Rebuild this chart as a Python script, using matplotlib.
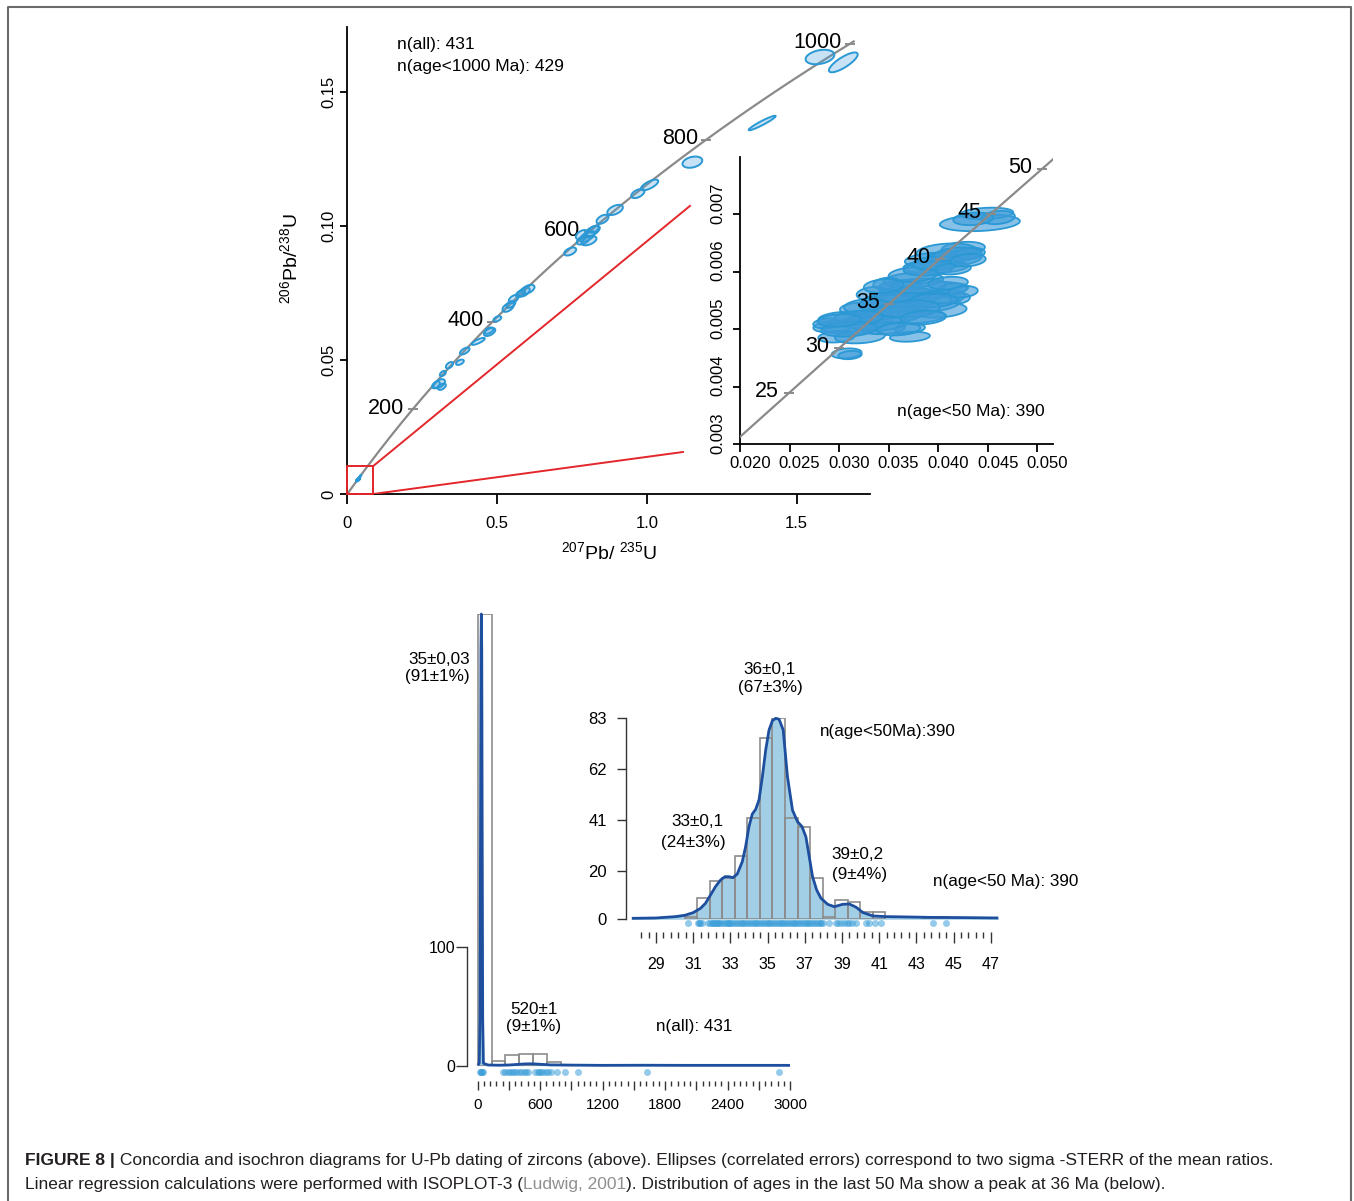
import numpy as np
import matplotlib
matplotlib.use("Agg")
import matplotlib.pyplot as plt
from matplotlib.patches import Polygon
from matplotlib.lines import Line2D
from matplotlib.ticker import FixedLocator, FixedFormatter
from matplotlib.transforms import offset_copy

plt.rcParams['font.family'] = ['Liberation Sans', 'DejaVu Sans']
plt.rcParams['mathtext.fontset'] = 'custom'
plt.rcParams['mathtext.rm'] = 'Liberation Sans'
plt.rcParams['mathtext.it'] = 'Liberation Sans:italic'

# ---------------- data ----------------
LAM238 = 1.55125e-4   # 1/Ma
LAM235 = 9.8485e-4    # 1/Ma

conc_ages_main = [200, 400, 600, 800, 1000]
conc_ages_inset = [25, 30, 35, 40, 45, 50]

# older grains (207Pb/235U, 206Pb/238U, half widths, error correlation)
old_x = [1.578, 1.656, 1.385, 1.152, 1.009, 0.970, 0.894, 0.852, 0.818, 0.801, 0.788,
         0.807, 0.782, 0.823, 0.744, 0.590, 0.603, 0.578, 0.555, 0.537, 0.546, 0.501,
         0.475, 0.473, 0.437, 0.392, 0.376, 0.341, 0.319, 0.307, 0.296, 0.316]
old_y = [0.1629, 0.1609, 0.1383, 0.1237, 0.1152, 0.1120, 0.1059, 0.1024, 0.0980, 0.0960,
         0.0947, 0.0944, 0.0967, 0.0987, 0.0904, 0.0753, 0.0763, 0.0747, 0.0727, 0.0696,
         0.0707, 0.0653, 0.0604, 0.0609, 0.0569, 0.0533, 0.0491, 0.0480, 0.0449, 0.0411,
         0.0407, 0.0400]
old_sx = [0.048, 0.048, 0.045, 0.033, 0.029, 0.022, 0.026, 0.020, 0.025, 0.025, 0.022,
          0.025, 0.019, 0.016, 0.020, 0.019, 0.022, 0.015, 0.016, 0.019, 0.015, 0.013,
          0.019, 0.015, 0.022, 0.016, 0.013, 0.012, 0.010, 0.019, 0.013, 0.013]
old_sy = [0.0027, 0.0037, 0.0027, 0.0021, 0.0020, 0.0017, 0.0019, 0.0017, 0.0020, 0.0020,
          0.0017, 0.0017, 0.0017, 0.0013, 0.0015, 0.0017, 0.0017, 0.0013, 0.0015, 0.0017,
          0.0013, 0.0010, 0.0015, 0.0012, 0.0013, 0.0013, 0.0010, 0.0012, 0.0010, 0.0017,
          0.0013, 0.0012]
old_rho = [0.3, 0.8, 0.95, 0.3, 0.7, 0.5, 0.5, 0.5, 0.6, 0.6, 0.5, 0.5, 0.5, 0.5, 0.5, 0.5,
           0.5, 0.5, 0.5, 0.5, 0.5, 0.5, 0.5, 0.5, 0.8, 0.6, 0.5, 0.5, 0.5, 0.5, 0.5, 0.5]

# young grains (< 50 Ma)
young_x = [0.04421, 0.04489, 0.04606, 0.04354, 0.04253, 0.04085, 0.03950, 0.04152, 0.03850,
           0.04320, 0.04051, 0.03749, 0.03614, 0.03950, 0.04085, 0.03682, 0.03480, 0.03850,
           0.04018, 0.03581, 0.03749, 0.03412, 0.04152, 0.03345, 0.04220, 0.03043, 0.02942,
           0.03143, 0.03278, 0.02975, 0.03211, 0.03446, 0.03715, 0.03715, 0.02874, 0.03177,
           0.03345, 0.03480, 0.03076, 0.03110,
           0.03300, 0.03500, 0.03650, 0.03800, 0.03750, 0.03900, 0.04000, 0.03550, 0.03400,
           0.03200, 0.03100, 0.03600, 0.03950, 0.04100, 0.04200, 0.03450, 0.03700, 0.03000,
           0.04150, 0.03850, 0.04250, 0.04300]
young_y = [0.006849, 0.007012, 0.006942, 0.006919, 0.006403, 0.006345, 0.006200, 0.006229,
           0.006084, 0.006316, 0.006084, 0.005852, 0.005736, 0.005678, 0.005562, 0.005562,
           0.005504, 0.005446, 0.005330, 0.005330, 0.005214, 0.005272, 0.005707, 0.005388,
           0.005533, 0.005186, 0.005041, 0.005041, 0.005128, 0.004867, 0.004867, 0.005012,
           0.005012, 0.004867, 0.005099, 0.005359, 0.005620, 0.005794, 0.004577, 0.004548,
           0.005400, 0.005450, 0.005600, 0.005750, 0.005950, 0.006050, 0.006150, 0.005250,
           0.005100, 0.005200, 0.005000, 0.005000, 0.005500, 0.005800, 0.006300, 0.005750,
           0.005350, 0.005150, 0.006050, 0.005200, 0.005650, 0.006200]
young_sx = [0.00404, 0.00269, 0.00168, 0.00202, 0.00219, 0.00303, 0.00286, 0.00286, 0.00202,
            0.00151, 0.00252, 0.00303, 0.00219, 0.00336, 0.00185, 0.00353, 0.00235, 0.00370,
            0.00269, 0.00303, 0.00319, 0.00202, 0.00151, 0.00118, 0.00101, 0.00252, 0.00202,
            0.00303, 0.00269, 0.00185, 0.00252, 0.00219, 0.00151, 0.00202, 0.00135, 0.00168,
            0.00168, 0.00135, 0.00151, 0.00118,
            0.00250, 0.00300, 0.00280, 0.00280, 0.00250, 0.00250, 0.00260, 0.00300, 0.00300,
            0.00250, 0.00280, 0.00220, 0.00250, 0.00200, 0.00240, 0.00200, 0.00320, 0.00220,
            0.00180, 0.00230, 0.00150, 0.00180]
young_sy = [0.000145, 0.000101, 0.000116, 0.000110, 0.000116, 0.000145, 0.000130, 0.000130,
            0.000101, 0.000101, 0.000101, 0.000130, 0.000116, 0.000145, 0.000116, 0.000145,
            0.000116, 0.000160, 0.000130, 0.000130, 0.000116, 0.000116, 0.000087, 0.000116,
            0.000087, 0.000116, 0.000101, 0.000130, 0.000116, 0.000101, 0.000116, 0.000101,
            0.000087, 0.000087, 0.000087, 0.000101, 0.000116, 0.000101, 0.000087, 0.000072,
            0.000130, 0.000150, 0.000140, 0.000130, 0.000130, 0.000120, 0.000120, 0.000140,
            0.000130, 0.000120, 0.000130, 0.000110, 0.000120, 0.000110, 0.000120, 0.000120,
            0.000150, 0.000110, 0.000100, 0.000120, 0.000100, 0.000110]
young_rho = [0.2] * 62

zoom_box = (0.0868, 0.01044)
zoom_line_top = (1.144, 0.1074)
zoom_line_bottom = (1.1205, 0.01566)

# histogram of all ages (Ma)
hist_all_edges = [0, 133, 266, 399, 532, 665, 798, 931, 1064, 1197, 1330, 1463, 1596, 1729,
                  1862, 1995, 2128, 2261, 2394, 2527, 2660, 2793, 2926]
hist_all_counts = [382, 4, 9, 10, 10, 3, 1, 1, 0, 0, 0, 0, 1, 0, 0, 0, 0, 0, 0, 0, 0, 1]
kde_all_age = [0, 15, 22, 27, 31, 35, 39, 43, 48, 55, 100, 200, 300, 400, 450, 500, 550, 600,
               700, 900, 1200, 1600, 2000, 2500, 3000]
kde_all_val = [0.5, 2, 40, 200, 350, 382, 350, 200, 40, 2, 0.6, 0.4, 0.6, 1.2, 1.5, 1.6, 1.5,
               1.2, 0.7, 0.5, 0.3, 0.4, 0.3, 0.3, 0.3]
rug_all = [20, 28, 35, 42, 50, 245, 265, 290, 310, 330, 350, 370, 395, 415, 440, 460, 480,
           555, 575, 590, 610, 630, 655, 680, 705, 759, 838, 966, 1626, 2894]

# histogram of ages < 50 Ma
hist_young_edges = [29.19, 29.86, 30.54, 31.21, 31.89, 32.56, 33.24, 33.91, 34.59, 35.26,
                    35.94, 36.61, 37.29, 37.96, 38.64, 39.31, 39.99, 40.66, 41.34, 42.01,
                    42.69, 43.36, 44.04, 44.71]
hist_young_counts = [0, 0, 1, 9, 16, 17, 26, 42, 75, 83, 42, 38, 17, 1, 8, 7, 3, 3, 0, 0, 0, 1, 1]
kde_young_age = [27.70, 29.0, 30.04, 30.55, 31.0, 31.39, 31.66, 31.93, 32.2, 32.47, 32.71,
                 32.92, 33.14, 33.37, 33.64, 33.82, 34.0, 34.18, 34.36, 34.54, 34.72, 34.9,
                 35.08, 35.26, 35.44, 35.62, 35.84, 36.07, 36.34, 36.61, 36.85, 37.06, 37.24,
                 37.42, 37.64, 37.87, 38.23, 38.59, 39.04, 39.4, 39.76, 40.12, 40.66, 41.38,
                 42.28, 43.72, 45.52, 47.41]
kde_young_val = [0.4, 0.55, 1.1, 1.65, 2.75, 4.5, 6.6, 10.0, 13.5, 16.2, 17.6, 17.6, 17.2,
                 18.7, 23.8, 30.0, 38.3, 43.5, 45.4, 49.3, 58.9, 69.9, 78.2, 82.0, 83.0, 82.6,
                 78.2, 58.9, 45.1, 40.3, 38.3, 34.1, 25.9, 17.6, 12.1, 8.7, 6.2, 5.2, 6.2, 6.3,
                 5.0, 2.8, 1.4, 1.1, 1.0, 0.8, 0.7, 0.55]
rug_young = [30.7, 31.25, 31.3, 31.35, 31.45, 31.8, 31.9, 32.0, 32.05, 32.1, 32.2, 32.3, 32.35,
             32.4, 32.5, 32.6, 32.7, 32.8, 32.85, 32.9, 33.0, 33.1, 33.2, 33.3, 33.4, 33.5,
             33.6, 33.7, 33.8, 33.9, 34.0, 34.1, 34.2, 34.3, 34.4, 34.5, 34.6, 34.7, 34.8,
             34.9, 35.0, 35.1, 35.2, 35.3, 35.4, 35.5, 35.6, 35.7, 35.8, 35.9, 36.0, 36.1,
             36.2, 36.3, 36.4, 36.5, 36.6, 36.7, 36.8, 36.9, 37.0, 37.1, 37.2, 37.3, 37.4,
             37.5, 37.6, 37.7, 37.8, 37.9, 38.0, 38.3, 38.7, 38.8, 38.95, 39.1, 39.25, 39.4,
             39.55, 39.75, 40.3, 40.45, 40.8, 41.1, 43.9, 44.6]

# ---------------- figure ----------------
W, H = 1354, 1201
fig = plt.figure(figsize=(W / 100, H / 100), dpi=100)

GRAY = '#8a8a8a'
RED = '#e3262a'
ELL_FACE = (0.27, 0.63, 0.86, 0.30)
ELL_FACE_IN = (0.24, 0.61, 0.85, 0.62)
ELL_EDGE = '#2a98d4'
KDE_FILL = '#a3cfe6'
KDE_LINE = '#1d4f9e'
BAR_EDGE = '#8c8c8c'
RUG = '#3d9fd9'


def px_axes(l, t, r, b):
    return fig.add_axes([l / W, 1 - b / H, (r - l) / W, (b - t) / H])


def ftext(x, y, s, **kw):
    kw.setdefault('ha', 'center')
    kw.setdefault('va', 'center')
    return fig.text(x / W, 1 - y / H, s, **kw)


def conc(t):
    t = np.asarray(t, dtype=float)
    return np.expm1(LAM235 * t), np.expm1(LAM238 * t)


def draw_ellipse(ax, cx, cy, sx, sy, rho, **kw):
    t = np.linspace(0, 2 * np.pi, 72)
    ex = cx + sx * np.cos(t)
    ey = cy + sy * (rho * np.cos(t) + np.sqrt(1 - rho ** 2) * np.sin(t))
    ax.add_patch(Polygon(np.column_stack([ex, ey]), closed=True, **kw))


def style_spines(ax, lw=1.3):
    for s in ['top', 'right']:
        ax.spines[s].set_visible(False)
    for s in ['left', 'bottom']:
        ax.spines[s].set_linewidth(lw)


# ---- concordia, all grains ----
ax1 = px_axes(347.3, 26.7, 870, 494)
ax1.set_xlim(0, 1.745)
ax1.set_ylim(0, 0.1742)
style_spines(ax1)
cx, cy = conc(np.linspace(0, 1005, 300))
ax1.plot(cx, cy, color=GRAY, lw=1.6, zorder=2)
tx, ty = conc(conc_ages_main)
ax1.plot(tx, ty, ls='none', marker='_', ms=7, mew=1.4, color=GRAY, zorder=2)
for a, x, y in zip(conc_ages_main, tx, ty):
    ax1.annotate(str(a), (x, y), xytext=(-6, 1), textcoords='offset points',
                 ha='right', va='center', fontsize=15.5)
for i in range(len(old_x)):
    draw_ellipse(ax1, old_x[i], old_y[i], old_sx[i], old_sy[i], old_rho[i],
                 facecolor=ELL_FACE, edgecolor=ELL_EDGE, lw=1.4, zorder=3)
for i in range(len(young_x)):
    draw_ellipse(ax1, young_x[i], young_y[i], young_sx[i], young_sy[i], young_rho[i],
                 facecolor=ELL_FACE, edgecolor=ELL_EDGE, lw=0.8, zorder=3)
bx, by = zoom_box
ax1.plot([0, bx, bx, 0, 0], [0, 0, by, by, 0], color=RED, lw=1.4, zorder=4, clip_on=False)
ax1.plot([bx, zoom_line_top[0]], [by, zoom_line_top[1]], color=RED, lw=1.4, zorder=4)
ax1.plot([bx, zoom_line_bottom[0]], [0, zoom_line_bottom[1]], color=RED, lw=1.4, zorder=4)
ax1.set_xticks([0, 0.5, 1.0, 1.5])
ax1.set_xticklabels(['0', '0.5', '1.0', '1.5'])
ax1.set_yticks([0, 0.05, 0.10, 0.15])
ax1.set_yticklabels(['0', '0.05', '0.10', '0.15'], rotation=90, va='center')
ax1.tick_params(axis='x', length=7.2, width=1.3, pad=8.5, labelsize=12)
ax1.tick_params(axis='y', length=5, width=1.3, pad=3.2, labelsize=12)

ftext(609, 552, r'$^{\mathrm{207}}\mathrm{Pb/\ }^{\mathrm{235}}\mathrm{U}$', fontsize=14)
ftext(290, 259, r'$^{\mathrm{206}}\mathrm{Pb/}^{\mathrm{238}}\mathrm{U}$', fontsize=14, rotation=90)
ftext(397, 45, 'n(all): 431', ha='left', fontsize=12.5)
ftext(397, 66, 'n(age<1000 Ma): 429', ha='left', fontsize=12.5)

# ---- concordia inset, ages < 50 Ma ----
ax2 = px_axes(740, 156.7, 1052.7, 444)
ax2.set_facecolor('none')
ax2.set_xlim(0.020, 0.05156)
ax2.set_ylim(0.003, 0.008)
style_spines(ax2)
cx, cy = conc(np.linspace(15, 55, 200))
ax2.plot(cx, cy, color=GRAY, lw=1.6, zorder=4)
tx, ty = conc(conc_ages_inset)
ax2.plot(tx, ty, ls='none', marker='_', ms=7, mew=1.4, color=GRAY, zorder=4)
for a, x, y in zip(conc_ages_inset, tx, ty):
    ax2.annotate(str(a), (x, y), xytext=(-7, 1), textcoords='offset points',
                 ha='right', va='center', fontsize=15.5, zorder=5)
for i in range(len(young_x)):
    draw_ellipse(ax2, young_x[i], young_y[i], young_sx[i], young_sy[i], young_rho[i],
                 facecolor=ELL_FACE_IN, edgecolor=ELL_EDGE, lw=1.3, zorder=3)
in_xt = [0.020, 0.025, 0.030, 0.035, 0.040, 0.045, 0.050]
in_yt = [0.003, 0.004, 0.005, 0.006, 0.007]
ax2.set_xticks(in_xt)
ax2.set_yticks(in_yt)
ax2.tick_params(axis='x', length=5.5, width=1.3, labelbottom=False)
ax2.tick_params(axis='y', length=4.8, width=1.3, labelleft=False)
# tick labels sit slightly shifted from their ticks in the original
xtr = offset_copy(ax2.get_xaxis_transform(), fig=fig, x=10, y=-20, units='dots')
for v in in_xt:
    ax2.text(v, 0, '%.3f' % v, transform=xtr, ha='center', va='center', fontsize=12)
ytr = offset_copy(ax2.get_yaxis_transform(), fig=fig, x=-22, y=11, units='dots')
for v in in_yt:
    ax2.text(0, v, '%.3f' % v, transform=ytr, ha='center', va='center', fontsize=12,
             rotation=90)
ftext(970.7, 411.7, 'n(age<50 Ma): 390', fontsize=12.5)


# ---- histograms + KDE ----
def hist_panel(ax, edges, counts, kage, kval, rug, rug_y):
    kage = np.asarray(kage)
    kval = np.asarray(kval)
    ax.fill_between(kage, 0, kval, color=KDE_FILL, lw=0, zorder=1)
    for i, c in enumerate(counts):
        if c > 0:
            ax.bar(edges[i], c, width=edges[i + 1] - edges[i], align='edge',
                   facecolor='none', edgecolor=BAR_EDGE, lw=1.2, zorder=2)
    ax.plot(kage, kval, color=KDE_LINE, lw=2, zorder=3, clip_on=False,
            solid_capstyle='butt')
    ax.plot(rug, [rug_y] * len(rug), ls='none', marker='o', ms=5, mec='none',
            mfc=RUG, alpha=0.55, clip_on=False, zorder=3)
    for s in ['top', 'right', 'bottom']:
        ax.spines[s].set_visible(False)
    ax.spines['left'].set_linewidth(1.0)
    ax.spines['left'].set_color('#333333')


ax3 = px_axes(467, 614, 790, 1065.7)
ax3.set_facecolor('none')
ax3.set_xlim(-102.8, 3000)
ax3.set_ylim(0, 382)
hist_panel(ax3, hist_all_edges, hist_all_counts, kde_all_age, kde_all_val, rug_all, -5.3)
ax3.spines['left'].set_bounds(0, 100)
ax3.spines['bottom'].set_position(('outward', 11))
ax3.set_yticks([0, 100])
ax3.set_yticklabels(['0', '100'])
maj = list(range(0, 3001, 300))
ax3.xaxis.set_major_locator(FixedLocator(maj))
ax3.xaxis.set_major_formatter(FixedFormatter([str(v) if v % 600 == 0 else '' for v in maj]))
ax3.xaxis.set_minor_locator(FixedLocator(list(range(0, 3001, 60))))
ax3.tick_params(axis='y', length=7.9, width=1.0, pad=0.7, labelsize=11.5, color='#333333')
ax3.tick_params(axis='x', which='major', length=6.2, width=1.0, pad=5.8, labelsize=11,
                color='#333333')
ax3.tick_params(axis='x', which='minor', length=3.6, width=1.0, color='#333333')

ax4 = px_axes(626, 718.3, 998.3, 919.3)
ax4.set_facecolor('none')
ax4.set_xlim(27.387, 47.408)
ax4.set_ylim(0, 83)
hist_panel(ax4, hist_young_edges, hist_young_counts, kde_young_age, kde_young_val,
           rug_young, -1.65)
ax4.spines['bottom'].set_position(('outward', 8.9))
ax4.set_yticks([0, 20, 41, 62, 83])
ax4.xaxis.set_major_locator(FixedLocator(list(range(29, 48, 2))))
ax4.xaxis.set_minor_locator(FixedLocator(list(np.round(np.arange(28.2, 47.01, 0.4), 1))))
ax4.tick_params(axis='y', length=6.3, width=1.0, pad=7.6, labelsize=12, color='#333333')
ax4.tick_params(axis='x', which='major', length=7.9, width=1.0, pad=10.4, labelsize=11.5,
                color='#333333')
ax4.tick_params(axis='x', which='minor', length=4.0, width=1.0, color='#333333')

# peak labels
ftext(439.3, 659, '35±0,03', fontsize=12.3)
ftext(437.7, 676.7, '(91±1%)', fontsize=12.3)
ftext(534, 1010, '520±1', fontsize=12.3)
ftext(534, 1026.7, '(9±1%)', fontsize=12.3)
ftext(694.3, 1026.7, 'n(all): 431', fontsize=12.3)
ftext(770, 669, '36±0,1', fontsize=12.3)
ftext(770, 687.3, '(67±3%)', fontsize=12.3)
ftext(888.3, 731.7, 'n(age<50Ma):390', fontsize=12.3)
ftext(697.3, 821.7, '33±0,1', fontsize=12.3)
ftext(693.3, 842.7, '(24±3%)', fontsize=12.3)
ftext(857.3, 854.3, '39±0,2', fontsize=12.3)
ftext(859.3, 875, '(9±4%)', fontsize=12.3)
ftext(1005.7, 881.7, 'n(age<50 Ma): 390', fontsize=12.3)

# ---- frame around the figure ----
fig.add_artist(Line2D([8 / W, 8 / W, 1351 / W, 1351 / W], [0, 1 - 7 / H, 1 - 7 / H, 0],
                      transform=fig.transFigure, color='#6b6b6b', lw=1.5))

# ---- caption ----
CAP = '#231f20'
renderer = fig.canvas.get_renderer()
line1 = [('FIGURE 8 |', dict(weight='bold', color=CAP)),
         (' Concordia and isochron diagrams for U-Pb dating of zircons (above). Ellipses '
          '(correlated errors) correspond to two sigma -STERR of the mean ratios.',
          dict(color=CAP))]
line2 = [('Linear regression calculations were performed with ISOPLOT-3 (', dict(color=CAP)),
         ('Ludwig, 2001', dict(color='#8f8f8f')),
         ('). Distribution of ages in the last 50 Ma show a peak at 36 Ma (below).',
          dict(color=CAP))]


def put_runs(runs, y, size):
    x = 25.0
    arts = []
    for s, kw in runs:
        t = ftext(x, y, s, ha='left', fontsize=size, **kw)
        x += t.get_window_extent(renderer).width
        arts.append(t)
    return x, arts


end, arts = put_runs(line1, 1160, 12)
size = 12 * (1278 - 25) / (end - 25)
for a in arts:
    a.remove()
put_runs(line1, 1160, size)
put_runs(line2, 1185, size)

fig.savefig('out.png', dpi=100)
